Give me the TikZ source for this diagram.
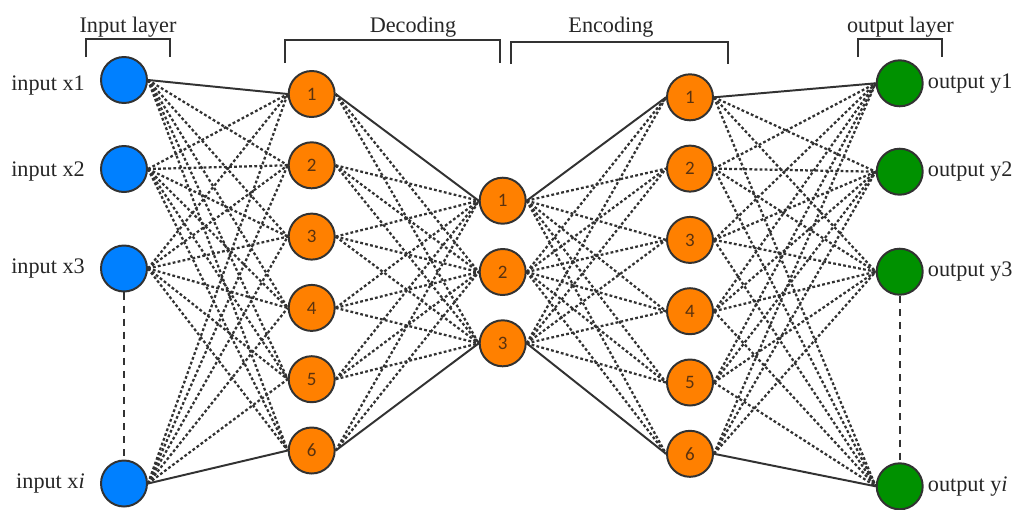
\documentclass[tikz,border=0pt]{standalone}
\usepackage{fontspec}
\setmainfont{Liberation Serif}
\newfontfamily\labelfont{Liberation Serif}
\newfontfamily\numfont{Carlito}
\usetikzlibrary{positioning}

\definecolor{inblue}{RGB}{0,128,255}
\definecolor{hidorange}{RGB}{255,128,0}
\definecolor{outgreen}{RGB}{0,145,0}
\definecolor{linegray}{RGB}{50,50,50}
\definecolor{numbrown}{RGB}{90,50,15}

\begin{document}
\begin{tikzpicture}[x=0.025cm, y=-0.025cm]
	\tikzstyle{neuron} = [ draw=linegray, circle, line width=1.4pt, minimum size=1.15cm, inner sep=0pt];
	\tikzstyle{innode} = [ neuron, fill=inblue];
	\tikzstyle{hidnode} = [ neuron, fill=hidorange, text=numbrown, font={\numfont\fontsize{13.5}{16}\selectfont}];
	\tikzstyle{outnode} = [ neuron, fill=outgreen];
	\tikzstyle{info} = [ inner sep=0pt, text=black!85, font={\labelfont\fontsize{15.8}{19}\selectfont}];
	\tikzstyle{weight} = [ linegray, line width=1.6pt, dash pattern=on 2pt off 1.6pt];
	\tikzstyle{strong} = [ linegray, line width=1.4pt];
	\tikzstyle{brace} = [ linegray, line width=1.4pt];
	\tikzstyle{gap} = [ linegray, line width=1.4pt, dash pattern=on 5pt off 4.3pt];

	\useasboundingbox (0,0) rectangle (1014,509);

	% layers
	\foreach \y [count=\i] in {80,169,268.5,483.5}
		\node[innode] (in\i) at (124,\y) {};
	\foreach \i in {1,...,6}
		\node[hidnode] (ha\i) at (311.7,{94+71.3*(\i-1)}) {\i};
	\foreach \i in {1,2,3}
		\node[hidnode] (m\i) at (502.7,{200.7+71.3*(\i-1)}) {\i};
	\foreach \i in {1,...,6}
		\node[hidnode] (hb\i) at (690,{97.3+71.3*(\i-1)}) {\i};
	\foreach \y [count=\i] in {83.3,171.7,271.7,486.3}
		\node[outnode] (out\i) at (899.7,\y) {};

	\foreach \t/\s [count=\i] in {1/6,2/3,3/0,{\textit{i}}/0} {
		\node[info, left=0.375cm of in\i, yshift=-\s*0.025cm] (lin\i) {input x\t};
		\node[info, right=0.1cm of out\i] (lout\i) {output y\t};
	}

	% weights
	\foreach \a in {1,...,4}
		\foreach \b in {1,...,6} {
			\ifnum \a\b=11 \else \ifnum \a\b=46 \else
				\draw[weight] (in\a.east) -- (ha\b.west);
			\fi\fi
		}
	\foreach \a in {1,...,6}
		\foreach \b in {1,2,3} {
			\ifnum \a\b=11 \else \ifnum \a\b=63 \else
				\draw[weight] (ha\a.east) -- (m\b.west);
			\fi\fi
		}
	\foreach \a in {1,2,3}
		\foreach \b in {1,...,6} {
			\ifnum \a\b=11 \else \ifnum \a\b=36 \else
				\draw[weight] (m\a.east) -- (hb\b.west);
			\fi\fi
		}
	\foreach \a in {1,...,6}
		\foreach \b in {1,...,4} {
			\ifnum \a\b=11 \else \ifnum \a\b=64 \else
				\draw[weight] (hb\a.east) -- (out\b.west);
			\fi\fi
		}

	\foreach \xa/\xb in {in1/ha1,in4/ha6,ha1/m1,ha6/m3,m1/hb1,m3/hb6,hb1/out1,hb6/out4}
		\draw[strong] (\xa.east) -- (\xb.west);

	\draw[gap] (in3.south) -- (in4.north);
	\draw[gap] (out3.south) -- (out4.north);

	% brackets
	\draw[brace] (86,57) -- (86,39) -- (170,39) -- (170,57);
	\draw[brace] (285,63) -- (285,40) -- (500,40) -- (500,63);
	\draw[brace] (511,64) -- (511,42) -- (728,42) -- (728,64);
	\draw[brace] (858,57) -- (858,39) -- (942,39) -- (942,57);

	\node[info] (tin) at (128,27) {Input layer};
	\node[info] (tdec) at (413,27) {Decoding};
	\node[info] (tenc) at (611,27) {Encoding};
	\node[info] (tout) at (900.5,27) {output layer};
\end{tikzpicture}
\end{document}
